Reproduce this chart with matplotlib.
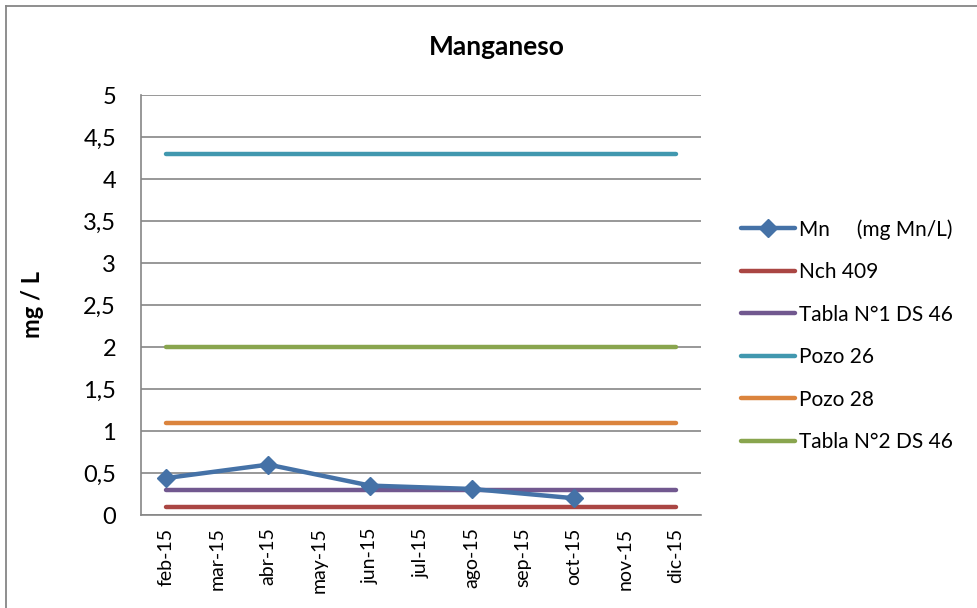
import numpy as np
import matplotlib
matplotlib.use("Agg")
import matplotlib.pyplot as plt
from matplotlib.lines import Line2D

plt.rcParams['font.family'] = ['Lato', 'DejaVu Sans']

months = ["feb-15", "mar-15", "abr-15", "may-15", "jun-15", "jul-15",
          "ago-15", "sep-15", "oct-15", "nov-15", "dic-15"]
mn = [0.44, np.nan, 0.60, np.nan, 0.35, np.nan, 0.31, np.nan, 0.20, np.nan, np.nan]
nch409 = [0.1] * 11
tabla1 = [0.3] * 11
pozo26 = [4.3] * 11
pozo28 = [1.1] * 11
tabla2 = [2.0] * 11
yticks = [0, 0.5, 1, 1.5, 2, 2.5, 3, 3.5, 4, 4.5, 5]
ytick_labels = ["0", "0,5", "1", "1,5", "2", "2,5", "3", "3,5", "4", "4,5", "5"]

fig = plt.figure(figsize=(9.77, 6.08), dpi=100)
ax = fig.add_axes([141/977, 1 - 515/608, 560/977, 420/608])

x = np.arange(len(months))
mn_arr = np.array(mn)
mask = ~np.isnan(mn_arr)

ax.plot(x[mask], mn_arr[mask], color="#4572A7", lw=3.2, marker="D", ms=9,
        solid_capstyle="round", solid_joinstyle="round", label="Mn     (mg Mn/L)", zorder=5)
ax.plot(x, nch409, color="#AA4643", lw=3.2, solid_capstyle="round", label="Nch 409", zorder=3)
ax.plot(x, tabla1, color="#71588F", lw=3.2, solid_capstyle="round", label="Tabla N°1 DS 46", zorder=3)
ax.plot(x, pozo26, color="#4198AF", lw=3.2, solid_capstyle="round", label="Pozo 26", zorder=3)
ax.plot(x, pozo28, color="#DB843D", lw=3.2, solid_capstyle="round", label="Pozo 28", zorder=3)
ax.plot(x, tabla2, color="#89A54E", lw=3.2, solid_capstyle="round", label="Tabla N°2 DS 46", zorder=3)

ax.set_xlim(-0.5, len(months) - 0.5)
ax.set_ylim(0, 5)
ax.set_yticks(yticks)
ax.set_yticklabels(ytick_labels, fontsize=17)
ax.set_xticks(x)
ax.set_xticklabels(months, rotation=90, fontsize=14)
ax.tick_params(axis='y', length=0, pad=18)
ax.tick_params(axis='x', length=0, pad=9)

ax.yaxis.grid(True, color="#868686", lw=1.2)
ax.set_axisbelow(True)
for s in ["top", "right"]:
    ax.spines[s].set_visible(False)
for s in ["left", "bottom"]:
    ax.spines[s].set_color("#868686")
    ax.spines[s].set_linewidth(1.2)

ax.set_ylabel("mg / L", fontsize=17, fontweight="bold", labelpad=28)
fig.text(497/977, 1 - 47/608, "Manganeso", ha="center", va="center",
         fontsize=19, fontweight="bold")

leg = ax.legend(loc="upper left", bbox_to_anchor=(741/977, 1 - 219/608),
                bbox_transform=fig.transFigure, frameon=False, fontsize=15,
                handlelength=2.6, handletextpad=0.2, labelspacing=1.08,
                borderaxespad=0, borderpad=0)

# chart border (top and left)
fig.add_artist(Line2D([6/977, 6/977], [0, 1 - 6/608], color="#868686", lw=1.3,
                      transform=fig.transFigure))
fig.add_artist(Line2D([6/977, 1], [1 - 6/608, 1 - 6/608], color="#868686", lw=1.3,
                      transform=fig.transFigure))

fig.savefig("out.png", dpi=100)
